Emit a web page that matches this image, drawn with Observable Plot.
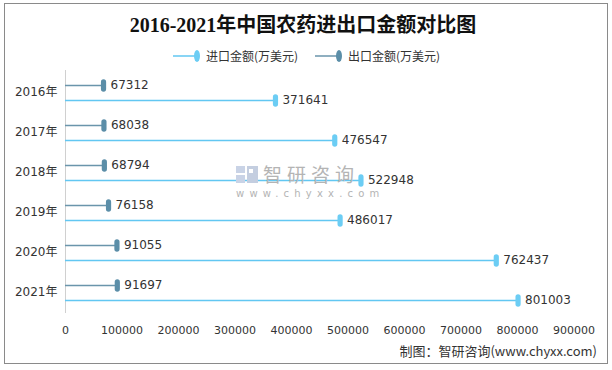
<!DOCTYPE html>
<html><head><meta charset="utf-8">
<script src="https://cdn.jsdelivr.net/npm/d3@7"></script>
<script src="https://cdn.jsdelivr.net/npm/@observablehq/plot@0.6"></script>
<style>
html,body{margin:0;padding:0;background:#fff;}
#wrap{position:relative;width:612px;height:370px;overflow:hidden;font-family:"DejaVu Sans","Noto Sans CJK SC",sans-serif;}
#frame{position:absolute;left:4px;top:3px;width:602px;height:359px;border:1.5px solid #8a8a8a;}
#title{position:absolute;left:0;width:606px;top:9px;text-align:center;font-family:"Liberation Serif","Noto Sans CJK SC",serif;font-weight:bold;font-size:20px;color:#111;}
#legend{position:absolute;top:47px;left:0;width:612px;display:flex;justify-content:center;gap:16px;font-size:12px;color:#333;font-family:"Noto Sans CJK SC",sans-serif;}
#legend span{display:flex;align-items:center;gap:4px;}
#chart{position:absolute;left:0;top:0;}
#footer{position:absolute;right:15px;top:341px;font-size:13px;color:#333;font-family:"Noto Sans CJK SC",sans-serif;}
#wm{position:absolute;left:236px;top:165px;color:#b4b4b4;pointer-events:none;}
</style></head>
<body><div id="wrap">
<div id="frame"></div>
<div id="title"></div>
<div id="legend"></div>
<div id="chart"></div>
<div id="wm"><div style="display:flex;align-items:center;gap:5px;height:18px;">
<svg width="22" height="17"><rect x="0" y="0" width="9" height="7" fill="#c9d3e6"/><rect x="0" y="9" width="9" height="8" fill="#c9d3e6"/><rect x="11" y="0" width="11" height="17" fill="#c4cee0"/><rect x="13" y="3" width="4" height="4" fill="#fff"/></svg>
<span style="font-family:'Noto Sans CJK SC';font-size:19px;letter-spacing:5px;line-height:18px;">智研咨询</span></div>
<div style="font-family:'DejaVu Sans';font-size:10px;letter-spacing:5.2px;line-height:11px;margin-top:5px;">www.chyxx.com</div></div>
<div id="footer"></div>
</div>
<script>
const titleText = "2016-2021年中国农药进出口金额对比图";
const footerText = "制图：智研咨询(www.chyxx.com)";
const years = ["2016年","2017年","2018年","2019年","2020年","2021年"];
const importValues = [371641, 476547, 522948, 486017, 762437, 801003];
const exportValues = [67312, 68038, 68794, 76158, 91055, 91697];
const seriesNames = ["进口金额(万美元)", "出口金额(万美元)"];
const xTicks = [0,100000,200000,300000,400000,500000,600000,700000,800000,900000];
const importColor = "#62c7f2", importDot = "#6ccdf4";
const exportColor = "#6a95ab", exportDot = "#5b8ea8";

document.getElementById("title").textContent = titleText;
document.getElementById("footer").textContent = footerText;

const leg = document.getElementById("legend");
[[seriesNames[0], importColor, importDot],[seriesNames[1], exportColor, exportDot]].forEach(([n,c,d])=>{
  const s = document.createElement("span");
  s.innerHTML = `<svg width="30" height="14"><line x1="1" y1="7" x2="25" y2="7" stroke="${c}" stroke-width="1.5"/><ellipse cx="25" cy="7" rx="3" ry="6" fill="${d}"/></svg><span>${n}</span>`;
  leg.appendChild(s);
});

const pill = {draw(ctx){ const w=2.6, h=6.2;
  ctx.moveTo(w,-h+w); ctx.arc(0,-h+w,w,0,Math.PI,true);
  ctx.lineTo(-w,h-w); ctx.arc(0,h-w,w,Math.PI,0,true); ctx.closePath(); }};

const imp = years.map((y,i)=>({year:y, v:importValues[i]}));
const exp = years.map((y,i)=>({year:y, v:exportValues[i]}));
const fmt = d3.format("d");

const plot = Plot.plot({
  width: 612, height: 370,
  marginTop: 70, marginBottom: 57, marginLeft: 65, marginRight: 38.5,
  style: {fontFamily: "DejaVu Sans, Noto Sans CJK SC, sans-serif", fontSize: "12px", color: "#333", background: "transparent"},
  x: {domain: [0, 900000], ticks: xTicks, tickFormat: fmt, tickSize: 0, tickPadding: 13, label: null},
  y: {type: "band", domain: years, padding: 0, tickSize: 0, tickPadding: 8, label: null},
  marks: [
    Plot.axisX({ticks: xTicks, tickFormat: fmt, tickSize: 0, tickPadding: 13, fontSize: 11, label: null}),
    Plot.axisY({tickSize: 0, tickPadding: 8, fontSize: 12, label: null, fontFamily: "DejaVu Sans, Noto Sans CJK SC"}),
    Plot.ruleX([0], {stroke: "#d0d0d0", strokeWidth: 1}),
    Plot.ruleY(exp, {y: "year", x1: 0, x2: "v", dy: -7, stroke: exportColor, strokeWidth: 1.5}),
    Plot.ruleY(imp, {y: "year", x1: 0, x2: "v", dy: 8, stroke: importColor, strokeWidth: 1.5}),
    Plot.dot(exp, {y: "year", x: "v", dy: -7, symbol: pill, fill: exportDot, stroke: null}),
    Plot.dot(imp, {y: "year", x: "v", dy: 8, symbol: pill, fill: importDot, stroke: null}),
    Plot.text(exp, {y: "year", x: "v", dy: -7, dx: 7, text: d=>String(d.v), textAnchor: "start", fill: "#333", fontSize: 12}),
    Plot.text(imp, {y: "year", x: "v", dy: 8, dx: 7, text: d=>String(d.v), textAnchor: "start", fill: "#333", fontSize: 12})
  ]
});
document.getElementById("chart").appendChild(plot);
</script>
</body></html>
